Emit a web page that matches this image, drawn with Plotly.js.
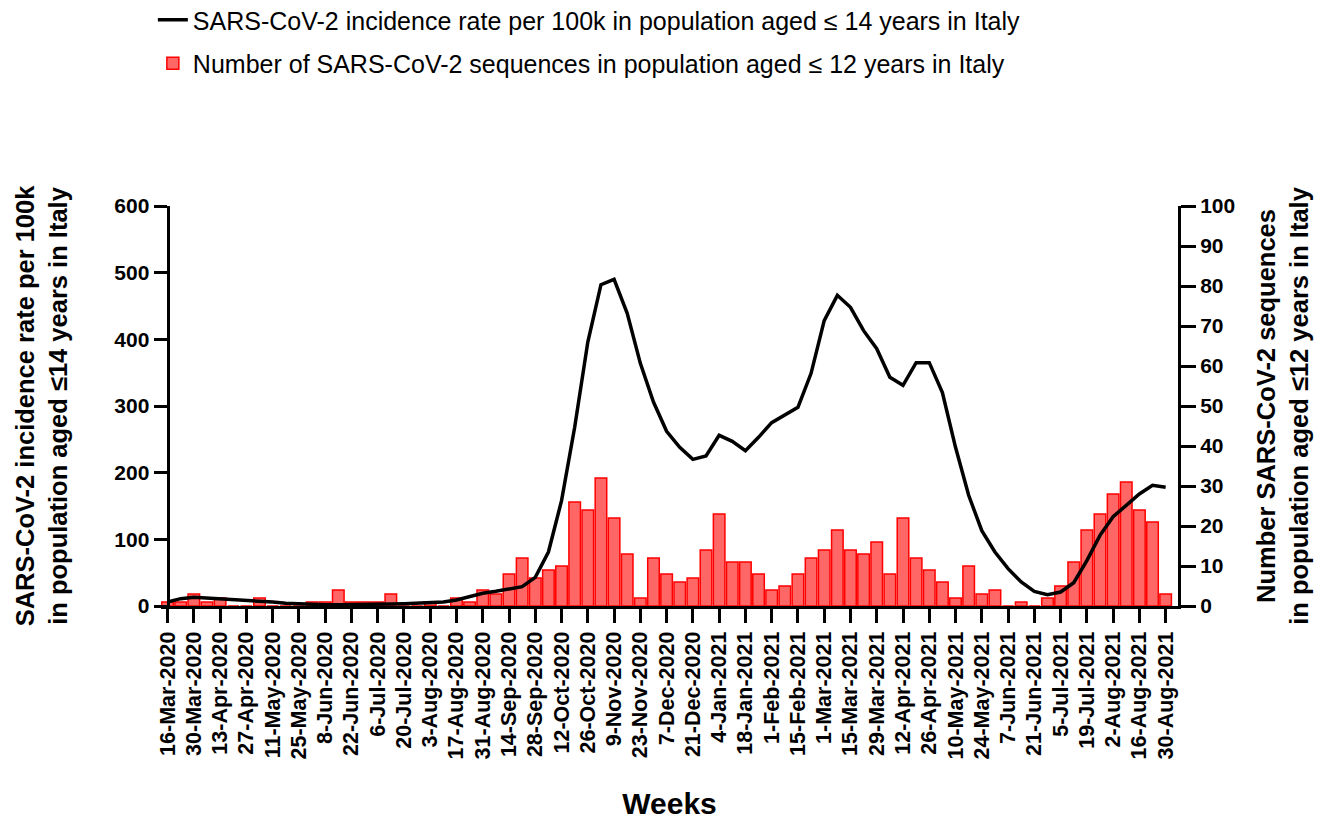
<!DOCTYPE html>
<html><head><meta charset="utf-8">
<script src="https://cdn.plot.ly/plotly-3.0.1.min.js"></script>
<style>html,body{margin:0;padding:0;background:#fff}#chart{width:1330px;height:820px}</style>
</head><body><div id="chart"></div>
<script>
const weeks = ['16-Mar-2020','23-Mar-2020','30-Mar-2020','6-Apr-2020','13-Apr-2020','20-Apr-2020','27-Apr-2020','4-May-2020','11-May-2020','18-May-2020','25-May-2020','1-Jun-2020','8-Jun-2020','15-Jun-2020','22-Jun-2020','29-Jun-2020','6-Jul-2020','13-Jul-2020','20-Jul-2020','27-Jul-2020','3-Aug-2020','10-Aug-2020','17-Aug-2020','24-Aug-2020','31-Aug-2020','7-Sep-2020','14-Sep-2020','21-Sep-2020','28-Sep-2020','5-Oct-2020','12-Oct-2020','19-Oct-2020','26-Oct-2020','2-Nov-2020','9-Nov-2020','16-Nov-2020','23-Nov-2020','30-Nov-2020','7-Dec-2020','14-Dec-2020','21-Dec-2020','28-Dec-2020','4-Jan-2021','11-Jan-2021','18-Jan-2021','25-Jan-2021','1-Feb-2021','8-Feb-2021','15-Feb-2021','22-Feb-2021','1-Mar-2021','8-Mar-2021','15-Mar-2021','22-Mar-2021','29-Mar-2021','5-Apr-2021','12-Apr-2021','19-Apr-2021','26-Apr-2021','3-May-2021','10-May-2021','17-May-2021','24-May-2021','31-May-2021','7-Jun-2021','14-Jun-2021','21-Jun-2021','28-Jun-2021','5-Jul-2021','12-Jul-2021','19-Jul-2021','26-Jul-2021','2-Aug-2021','9-Aug-2021','16-Aug-2021','23-Aug-2021','30-Aug-2021'];

const tickLabels = ['16-Mar-2020','30-Mar-2020','13-Apr-2020','27-Apr-2020','11-May-2020','25-May-2020','8-Jun-2020','22-Jun-2020','6-Jul-2020','20-Jul-2020','3-Aug-2020','17-Aug-2020','31-Aug-2020','14-Sep-2020','28-Sep-2020','12-Oct-2020','26-Oct-2020','9-Nov-2020','23-Nov-2020','7-Dec-2020','21-Dec-2020','4-Jan-2021','18-Jan-2021','1-Feb-2021','15-Feb-2021','1-Mar-2021','15-Mar-2021','29-Mar-2021','12-Apr-2021','26-Apr-2021','10-May-2021','24-May-2021','7-Jun-2021','21-Jun-2021','5-Jul-2021','19-Jul-2021','2-Aug-2021','16-Aug-2021','30-Aug-2021'];

// Incidence rate per 100k, aged <= 14 (left axis)
const incidence = [6,11,13,12,11,10,9,8,6,4,3,3,2,2,2,2,2,3,3.5,4,5,6,9,14,19,22,25,29,43,81,158,268,396,482,490,439,364,306,262,238,220,225,256,247,233,253,275,287,298,349,428,466,448,413,386,343,331,365,365,320,238,166,113,81,56,36,22,17,21,35,68,106,134,151,168,181,178];

// Number of sequences, aged <= 12 (right axis)
const sequences = [1,1,3,1,2,0,0,2,0,0,0,1,1,4,1,1,1,3,0,0,1,0,2,1,4,3,8,12,7,9,10,26,24,32,22,13,2,12,8,6,7,14,23,11,11,8,4,5,8,12,14,19,14,13,16,8,22,12,9,6,2,10,3,4,0,1,0,2,5,11,19,23,28,31,24,21,3];

const lineName = 'SARS-CoV-2 incidence rate per 100k in population aged \u2264 14 years in Italy';
const barName = 'Number of SARS-CoV-2 sequences in population aged \u2264 12 years in Italy';
const leftTitle = 'SARS-CoV-2 incidence rate per 100k<br>in population aged \u226414 years in Italy';
const rightTitle = 'Number SARS-CoV-2 sequences<br>in population aged \u226412 years in Italy';

const FONT = 'Arial, "Liberation Sans", Helvetica, sans-serif';
const xRange = [-0.5, 76.94];
const leftPos = 0.5 / (xRange[1] - xRange[0]);

const axisCommon = {
  showgrid:false, zeroline:false, showline:true, linewidth:3, linecolor:'#000',
  ticks:'outside', tickwidth:3, tickcolor:'#000'
};

const traces = [
  {type:'scatter', mode:'lines', x:weeks, y:incidence, yaxis:'y2', name:lineName,
   line:{color:'#000', width:3.5}, legendgroup:'a'},
  {type:'bar', x:weeks, y:sequences, yaxis:'y', name:barName,
   marker:{color:'#ff6666', line:{color:'#ff0000', width:1.5}}, legendgroup:'b'}
];

const layout = {
  width:1330, height:820,
  margin:{l:161.1, r:151.7, t:205.7, b:214.3, autoexpand:false},
  paper_bgcolor:'#fff', plot_bgcolor:'#fff',
  font:{family:FONT, color:'#000'},
  bargap:0.12,
  showlegend:true,
  legend:{x:-0.008, xanchor:'left', y:1.5225, yanchor:'top', font:{size:25, color:'#000'},
          traceorder:'grouped', tracegroupgap:8, bgcolor:'rgba(0,0,0,0)', itemwidth:30},
  xaxis:Object.assign({}, axisCommon, {
    type:'category', range:xRange, tickmode:'array', tickvals:tickLabels, ticktext:tickLabels,
    tickangle:-90, ticklen:14, tickfont:{size:21.5, weight:'bold', color:'#000'},
    title:{text:'Weeks', font:{size:30, weight:'bold', color:'#000'}, standoff:40}
  }),
  yaxis:Object.assign({}, axisCommon, {
    side:'right', range:[0,100], tick0:0, dtick:10, ticklen:15,
    tickfont:{size:21, weight:'bold', color:'#000'},
    title:{text:rightTitle, font:{size:25.5, weight:'bold', color:'#000'}, standoff:23}
  }),
  yaxis2:Object.assign({}, axisCommon, {
    overlaying:'y', side:'left', anchor:'free', position:leftPos, range:[0,600], tick0:0, dtick:100, ticklen:13,
    tickfont:{size:21, weight:'bold', color:'#000'},
    title:{text:leftTitle, font:{size:25.5, weight:'bold', color:'#000'}, standoff:38}
  })
};

Plotly.newPlot('chart', traces, layout, {displayModeBar:false, staticPlot:true});
</script>
</body></html>
